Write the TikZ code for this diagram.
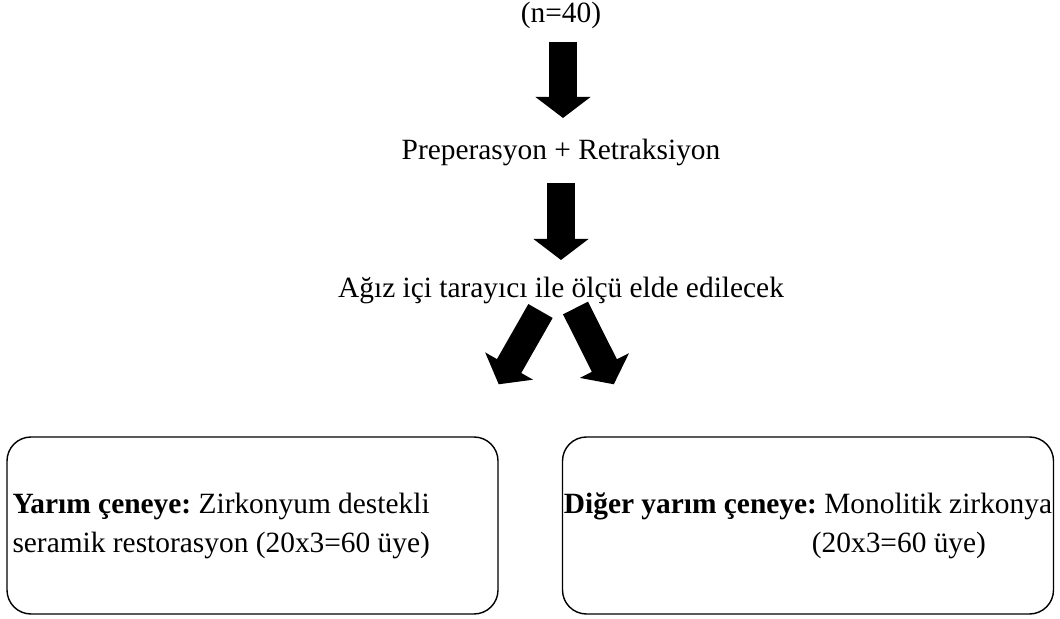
\documentclass[tikz,border=0pt]{standalone}
\usepackage{fontspec}
\setmainfont{Liberation Serif}
\usetikzlibrary{arrows.meta,positioning,calc}
\frenchspacing

\begin{document}
\begin{tikzpicture}[
            x=0.5pt, y=-0.5pt,
            label/.style={
                    inner sep=0pt,
                    anchor=base,
                    font=\fontsize{14.7}{19.5}\selectfont
                },
            box/.style={
                    draw=black,
                    fill=white,
                    rectangle,
                    rounded corners=12pt,
                    line width=0.7pt,
                    minimum width=245.5pt,
                    minimum height=88.5pt,
                    align=flush left,
                    font=\fontsize{14.7}{19.5}\selectfont
                },
            fatArrow/.style={
                    -{Triangle[length=10.5pt,width=27pt]},
                    line width=14pt,
                    color=black
                }
            ]

            \useasboundingbox (0,0) rectangle (1060,619);

            % 1. Örneklem
            \node[label] (nSayi) at (561,23) {(n=40)};

            % 2. Preperasyon
            \node[label] (prep) at (561,160) {Preperasyon + Retraksiyon};

            % 3. Ölçü
            \node[label] (olcu) at (561,298) {Ağız içi tarayıcı ile ölçü elde edilecek};

            % 4. Sol yarım çene
            \node[box, inner xsep=2.5pt, text width=240pt] (solCene) at (252.5,525.5) {
                \textbf{Yarım çeneye:} Zirkonyum destekli \\
                seramik restorasyon (20x3=60 üye)
            };

            % 5. Diğer yarım çene
            \node[box, inner xsep=0.5pt] (sagCene) at (808,525.5) {
                \textbf{Diğer yarım çeneye:} Monolitik zirkonya \\
                \hspace*{124pt}(20x3=60 üye)
            };

            % --- OKLAR ---
            \draw[fatArrow] ([xshift=1pt,yshift=-9.5pt]nSayi.base) -- ([xshift=1pt,yshift=21pt]prep.base);
            \draw[fatArrow] ([yshift=-11.5pt]prep.base) -- ([yshift=19pt]olcu.base);
            \draw[fatArrow] ([xshift=-10.25pt,yshift=-6.5pt]olcu.base) -- ([yshift=26pt]solCene.north east);
            \draw[fatArrow] ([xshift=7.25pt,yshift=-5pt]olcu.base) -- ([xshift=26pt,yshift=26pt]sagCene.north west);

        \end{tikzpicture}
\end{document}
